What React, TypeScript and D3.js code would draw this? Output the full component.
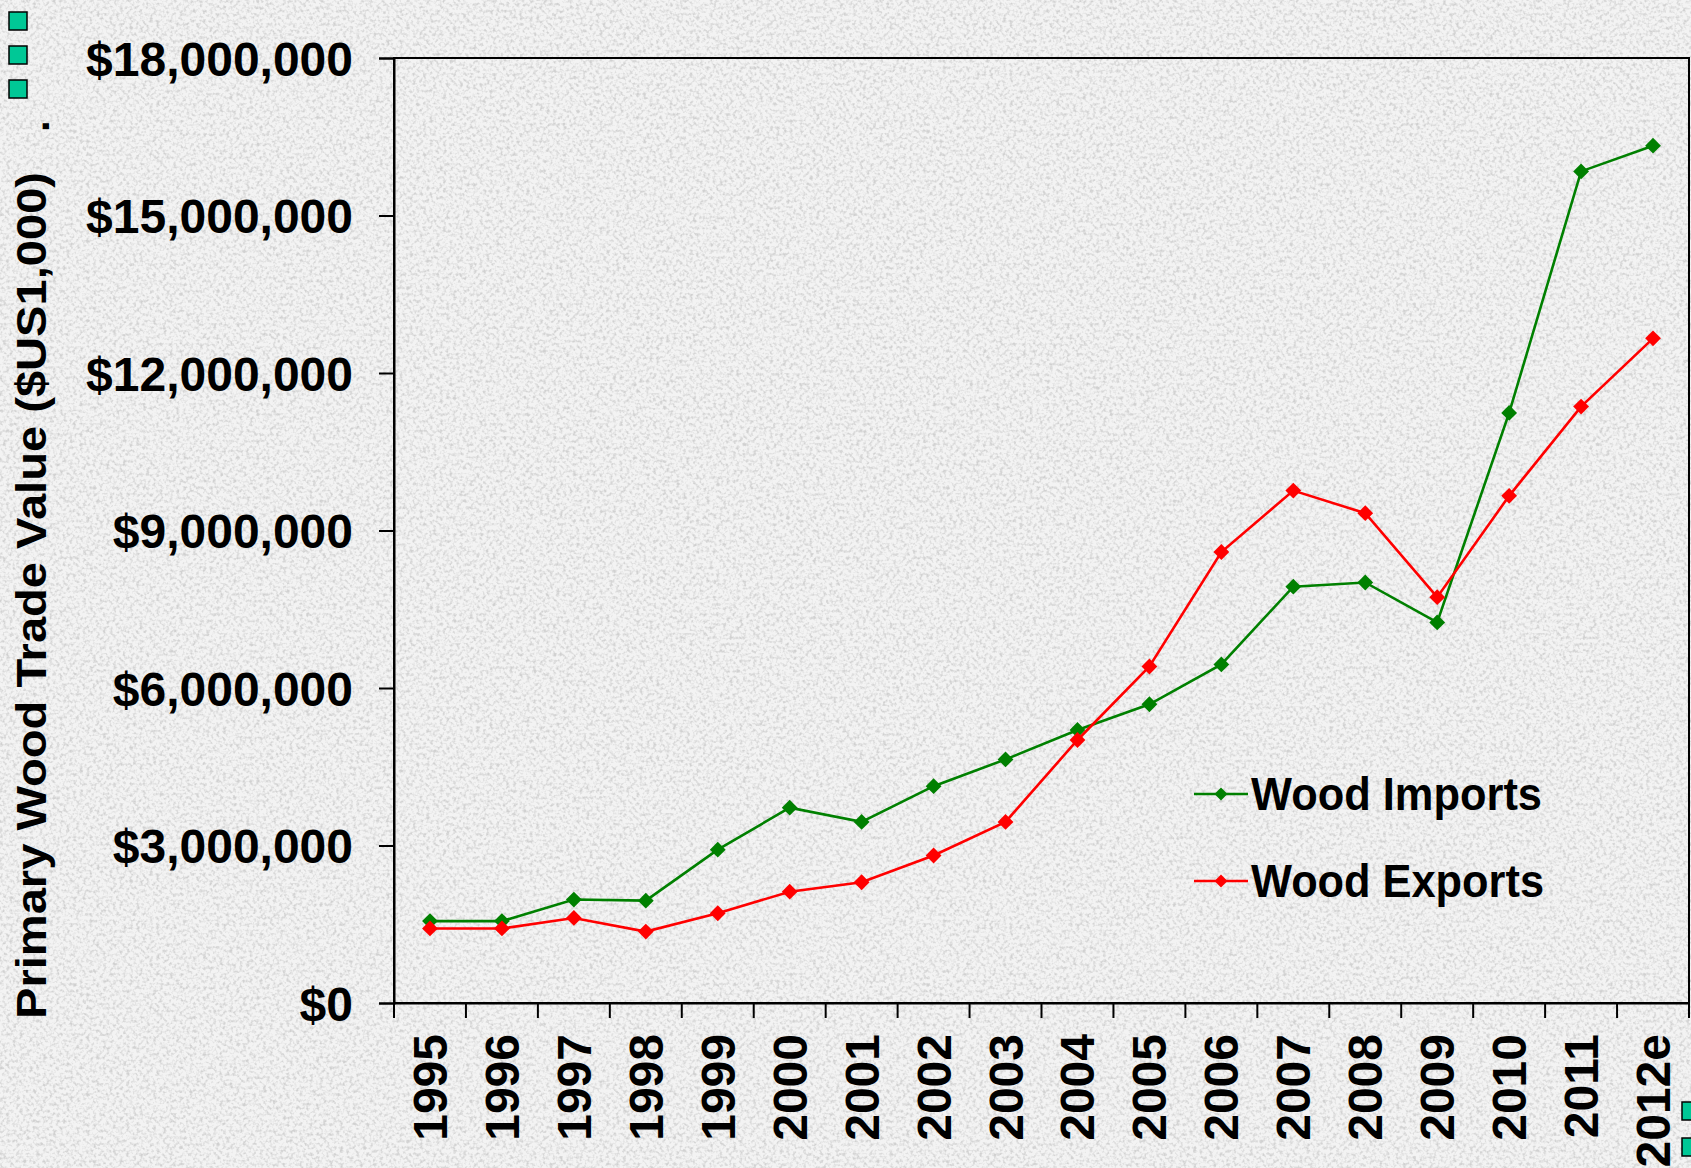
import { useEffect, useRef } from "react";
import * as d3 from "d3";

const years = ["1995", "1996", "1997", "1998", "1999", "2000", "2001", "2002", "2003", "2004", "2005", "2006", "2007", "2008", "2009", "2010", "2011", "2012e"];
const woodImports = [1.56, 1.56, 1.97, 1.95, 2.92, 3.72, 3.45, 4.13, 4.64, 5.2, 5.69, 6.45, 7.93, 8.01, 7.25, 11.24, 15.84, 16.33];
const woodExports = [1.42, 1.42, 1.62, 1.36, 1.71, 2.12, 2.3, 2.81, 3.45, 5.01, 6.41, 8.59, 9.76, 9.33, 7.73, 9.66, 11.36, 12.66];
const yTicks = [0, 3, 6, 9, 12, 15, 18];

const W = 1691;
const H = 1168;

export default function App() {
  const svgRef = useRef<SVGSVGElement>(null);

  useEffect(() => {
    if (!svgRef.current) return;
    const svg = d3.select(svgRef.current);
    svg.selectAll("*").remove();

    const left = 394, right = 1689, top = 58, bottom = 1003;
    const font = "'Liberation Sans', Arial, sans-serif";

    // background texture
    const defs = svg.append("defs");
    const f = defs.append("filter").attr("id", "noise")
      .attr("x", 0).attr("y", 0).attr("width", "100%").attr("height", "100%");
    f.append("feTurbulence").attr("type", "fractalNoise")
      .attr("baseFrequency", 0.3).attr("numOctaves", 2).attr("seed", 7);
    f.append("feColorMatrix").attr("type", "matrix")
      .attr("values", "0 0 0 0 0.5  0 0 0 0 0.5  0 0 0 0 0.5  3 0 0 0 -1.35");

    svg.append("rect").attr("width", W).attr("height", H).attr("fill", "#f3f3f3");
    svg.append("rect").attr("width", W).attr("height", H)
      .attr("filter", "url(#noise)").attr("opacity", 0.6);

    const x = d3.scaleBand<string>().domain(years).range([left, right]);
    const y = d3.scaleLinear().domain([0, 18]).range([bottom, top]);
    const cx = (d: string) => x(d)! + x.bandwidth() / 2;

    // frame
    svg.append("rect")
      .attr("x", left).attr("y", top)
      .attr("width", right - left).attr("height", bottom - top)
      .attr("fill", "none").attr("stroke", "#000").attr("stroke-width", 2);

    // y axis
    const yAxis = d3.axisLeft(y).tickValues(yTicks).tickSize(15).tickPadding(26)
      .tickFormat(d => "$" + d3.format(",")((d as number) * 1e6));
    const gy = svg.append("g").attr("transform", `translate(${left},0)`).call(yAxis);
    gy.select(".domain").attr("stroke-width", 2);
    gy.selectAll(".tick line").attr("stroke-width", 2);
    gy.selectAll(".tick text")
      .attr("font-family", font).attr("font-size", 48).attr("font-weight", "bold")
      .attr("fill", "#000").attr("dy", "0.36em");

    // x axis
    const gx = svg.append("g").attr("transform", `translate(0,${bottom})`)
      .call(d3.axisBottom(x).tickSize(0).tickFormat(() => ""));
    gx.select(".domain").attr("stroke-width", 2);
    const edges = years.map(d => x(d)!).concat([right]);
    gx.selectAll(".edge").data(edges).enter().append("line")
      .attr("x1", d => d).attr("x2", d => d).attr("y1", 0).attr("y2", 15)
      .attr("stroke", "#000").attr("stroke-width", 2);
    gx.selectAll(".yr").data(years).enter().append("text")
      .attr("transform", d => `translate(${cx(d) + 17},31) rotate(-90)`)
      .attr("text-anchor", "end")
      .attr("font-family", font).attr("font-size", 48).attr("font-weight", "bold")
      .attr("fill", "#000")
      .text(d => d);

    // y label
    svg.append("text")
      .attr("transform", "translate(46,1019) rotate(-90)")
      .attr("font-family", "'Liberation Sans Narrow', 'Arial Narrow', 'Liberation Sans', sans-serif")
      .attr("font-size", 42).attr("font-weight", "bold")
      .attr("textLength", 847).attr("lengthAdjust", "spacingAndGlyphs")
      .attr("fill", "#000")
      .text("Primary Wood Trade Value ($US1,000)");
    svg.append("text")
      .attr("transform", "translate(49,132) rotate(-90)")
      .attr("font-family", font).attr("font-size", 42).attr("font-weight", "bold")
      .attr("fill", "#000").text(".");

    // series
    const series = [
      { name: "Wood Imports", values: woodImports, color: "#008000" },
      { name: "Wood Exports", values: woodExports, color: "#ff0000" },
    ];
    const line = d3.line<number>().x((_, i) => cx(years[i])).y(d => y(d));
    const diamond = d3.symbol().type(d3.symbolSquare).size(125);

    series.forEach(s => {
      svg.append("path").datum(s.values)
        .attr("fill", "none").attr("stroke", s.color).attr("stroke-width", 2.6)
        .attr("d", line);
      svg.append("g").selectAll("path").data(s.values).enter().append("path")
        .attr("transform", (d, i) => `translate(${cx(years[i])},${y(d)}) rotate(45)`)
        .attr("d", diamond()!)
        .attr("fill", s.color);
    });

    // legend
    const legend = svg.append("g").attr("transform", "translate(1194,794)");
    series.forEach((s, i) => {
      const row = legend.append("g").attr("transform", `translate(0,${i * 87})`);
      row.append("line").attr("x1", 0).attr("x2", 54).attr("y1", 0).attr("y2", 0)
        .attr("stroke", s.color).attr("stroke-width", 2.6);
      row.append("path").attr("transform", "translate(27,0) rotate(45)")
        .attr("d", d3.symbol().type(d3.symbolSquare).size(85)()!)
        .attr("fill", s.color);
      row.append("text").attr("x", 57).attr("y", 16)
        .attr("font-family", font).attr("font-size", 46).attr("font-weight", "bold")
        .attr("textLength", i === 0 ? 291 : 293).attr("lengthAdjust", "spacingAndGlyphs")
        .attr("fill", "#000").text(s.name);
    });

    // decorative bullets
    const bullets = [[9, 12], [9, 46], [9, 80], [1682, 1102], [1682, 1138]];
    svg.append("g").selectAll("rect").data(bullets).enter().append("rect")
      .attr("x", d => d[0]).attr("y", d => d[1])
      .attr("width", 18).attr("height", 18)
      .attr("fill", "#00c896").attr("stroke", "#000").attr("stroke-width", 1.5);
  }, []);

  return (
    <svg
      ref={svgRef}
      width={W}
      height={H}
      style={{ position: "absolute", left: 0, top: 0 }}
    />
  );
}
